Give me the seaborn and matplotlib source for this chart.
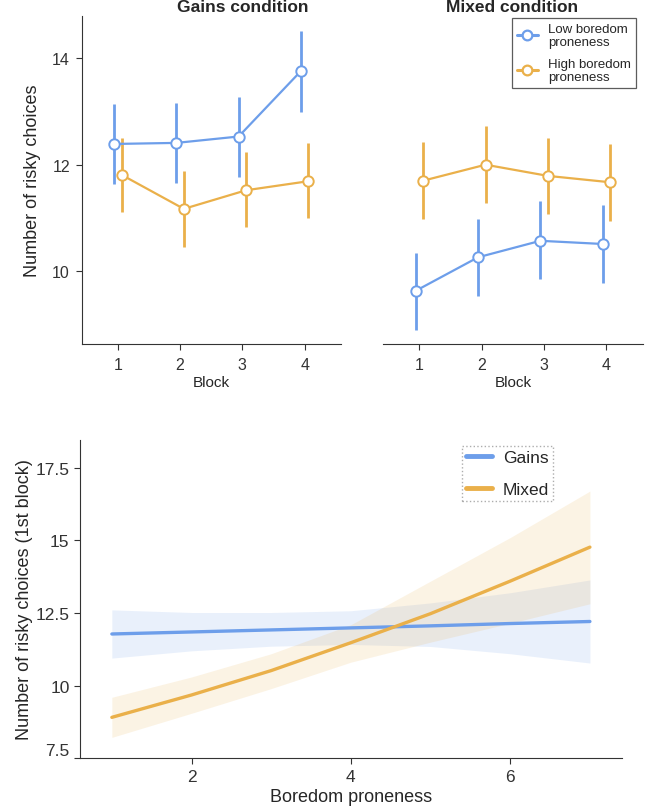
import numpy as np
import pandas as pd
import matplotlib
matplotlib.use('Agg')
import matplotlib.pyplot as plt
import seaborn as sns
from matplotlib.lines import Line2D

# top panels: mean risky choices per block with error bars
blocks = [1, 2, 3, 4]
groups = ['Low boredom\nproneness', 'High boredom\nproneness']

gains_low = [12.39, 12.41, 12.53, 13.76]
gains_low_lo = [11.64, 11.65, 11.76, 13.00]
gains_low_hi = [13.15, 13.16, 13.28, 14.52]
gains_high = [11.81, 11.17, 11.52, 11.69]
gains_high_lo = [11.11, 10.45, 10.82, 10.99]
gains_high_hi = [12.51, 11.88, 12.23, 12.40]

mixed_low = [9.63, 10.26, 10.57, 10.51]
mixed_low_lo = [8.90, 9.54, 9.85, 9.78]
mixed_low_hi = [10.35, 10.98, 11.31, 11.24]
mixed_high = [11.70, 12.00, 11.79, 11.67]
mixed_high_lo = [10.98, 11.28, 11.08, 10.95]
mixed_high_hi = [12.42, 12.72, 12.51, 12.39]

# bottom panel: fitted first-block risky choices vs boredom proneness
bp = [1, 2, 3, 4, 5, 6, 7]
gains_fit = [11.78, 11.85, 11.92, 11.99, 12.06, 12.14, 12.21]
gains_fit_lo = [10.95, 11.20, 11.36, 11.42, 11.35, 11.10, 10.78]
gains_fit_hi = [12.61, 12.52, 12.52, 12.58, 12.85, 13.20, 13.64]
mixed_fit = [8.91, 9.68, 10.52, 11.48, 12.48, 13.60, 14.77]
mixed_fit_lo = [8.22, 9.05, 9.90, 10.81, 11.50, 12.15, 12.82]
mixed_fit_hi = [9.60, 10.30, 11.10, 12.10, 13.60, 15.10, 16.70]

blue = '#6d9eea'
orange = '#eab04a'
spine_col = '#333333'

sns.set_style('ticks')
plt.rcParams['font.family'] = ['Liberation Sans', 'DejaVu Sans']
plt.rcParams['axes.edgecolor'] = spine_col
plt.rcParams['xtick.color'] = spine_col
plt.rcParams['ytick.color'] = spine_col

fig = plt.figure(figsize=(6.45, 8.12), dpi=100)
ax1 = fig.add_axes([0.1267, 0.5751, 0.4016, 0.4043])
ax2 = fig.add_axes([0.5943, 0.5751, 0.4020, 0.4043])
ax3 = fig.add_axes([0.1240, 0.0649, 0.8400, 0.3924])


def draw_panel(ax, series):
    for mean, lo, hi, col, shift in series:
        xs = np.array(blocks) + shift
        ax.vlines(xs, lo, hi, color=col, lw=2.0, zorder=2)
        sns.lineplot(x=xs, y=mean, ax=ax, color=col, lw=1.6, marker='o',
                     markersize=7.5, markerfacecolor='white',
                     markeredgecolor=col, markeredgewidth=1.4, zorder=3)
    ax.set_xlim(0.42, 4.58)
    ax.set_ylim(8.63, 14.8)
    ax.set_xticks(blocks)
    ax.set_xlabel('Block', fontsize=11, labelpad=2)
    ax.tick_params(labelsize=11.5, length=4.5, pad=5)


draw_panel(ax1, [(gains_low, gains_low_lo, gains_low_hi, blue, -0.06),
                 (gains_high, gains_high_lo, gains_high_hi, orange, 0.06)])
draw_panel(ax2, [(mixed_low, mixed_low_lo, mixed_low_hi, blue, -0.06),
                 (mixed_high, mixed_high_lo, mixed_high_hi, orange, 0.06)])

ax1.set_yticks([10, 12, 14])
ax1.tick_params(axis='y', pad=4)
ax1.set_ylabel('Number of risky choices', fontsize=13, labelpad=8)
sns.despine(ax=ax1)
ax2.set_yticks([])
ax2.set_ylabel('')
sns.despine(ax=ax2, left=True)

fig.text(243 / 645, 1 - 8 / 812, 'Gains condition', ha='center', va='center',
         fontsize=12.5, fontweight='bold')
fig.text(512 / 645, 1 - 8 / 812, 'Mixed condition', ha='center', va='center',
         fontsize=12.5, fontweight='bold')

handles = [Line2D([], [], color=c, lw=2.2, marker='o', markersize=7,
                  markerfacecolor='white', markeredgecolor=c, markeredgewidth=1.6)
           for c in [blue, orange]]
leg1 = fig.legend(handles, groups, loc='upper left',
                  bbox_to_anchor=(512 / 645, 1 - 19 / 812), fontsize=9.5,
                  frameon=True, fancybox=False, handlelength=1.6,
                  labelspacing=0.7, borderpad=0.35, borderaxespad=0,
                  handletextpad=0.8)
leg1.get_frame().set_edgecolor(spine_col)
leg1.get_frame().set_linewidth(0.9)

# bottom panel
ax3.fill_between(bp, gains_fit_lo, gains_fit_hi, color=blue, alpha=0.15, lw=0)
ax3.fill_between(bp, mixed_fit_lo, mixed_fit_hi, color=orange, alpha=0.15, lw=0)
sns.lineplot(x=bp, y=gains_fit, ax=ax3, color=blue, lw=2.4, label='Gains')
sns.lineplot(x=bp, y=mixed_fit, ax=ax3, color=orange, lw=2.4, label='Mixed')
ax3.set_xlim(0.6, 7.4)
ax3.set_ylim(7.5, 18.47)
ax3.set_xticks([2, 4, 6])
ax3.set_yticks([7.5, 10, 12.5, 15, 17.5])
ax3.set_yticklabels(['7.5', '10', '12.5', '15', '17.5'])
ax3.tick_params(labelsize=12.5, length=4)
ax3.get_yticklabels()[0].set_va('bottom')
ax3.set_xlabel('Boredom proneness', fontsize=13, labelpad=3)
ax3.set_ylabel('Number of risky choices (1st block)', fontsize=13, labelpad=2)
sns.despine(ax=ax3)

leg2 = ax3.legend(loc='upper left', bbox_to_anchor=(462 / 645, 1 - 447 / 812),
                  bbox_transform=fig.transFigure, fontsize=12.5, frameon=True,
                  fancybox=False, handlelength=1.5, labelspacing=0.95,
                  borderpad=0.25, handletextpad=0.6, borderaxespad=0)
leg2.get_frame().set_edgecolor('#999999')
leg2.get_frame().set_linestyle(':')
leg2.get_frame().set_linewidth(1.0)
for ln in leg2.get_lines():
    ln.set_linewidth(3.5)

fig.savefig('out.png', dpi=100)
